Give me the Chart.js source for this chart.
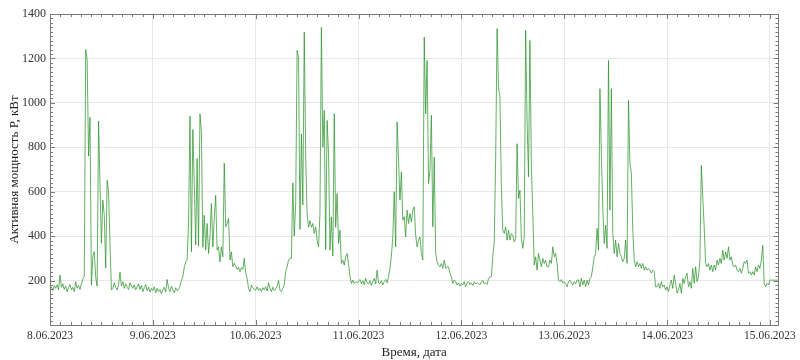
<!DOCTYPE html>
<html>
<head>
<meta charset="utf-8">
<script src="https://cdn.jsdelivr.net/npm/chart.js@4.4.0/dist/chart.umd.min.js"></script>
<style>
    html, body { margin: 0; padding: 0; background: #ffffff; }
    #wrap { width: 800px; height: 360px; }
</style>
</head>
<body>
<div id="wrap"><canvas id="myChart" width="800" height="360"></canvas></div>
<script>
//Data
///Sampling step of the logger, minutes (first value = 8.06.2023 00:00)
var stepMinutes = 20;

///Day labels on the time axis
var dayLabels = ["8.06.2023", "9.06.2023", "10.06.2023", "11.06.2023", "12.06.2023", "13.06.2023", "14.06.2023", "15.06.2023"];

///Power axis ticks, kW
var powerTicks = [0, 200, 400, 600, 800, 1000, 1200, 1400];

///Active power P, kW, one array per day
var day0806 = [160, 172, 155, 178, 165, 182, 158, 225, 170, 185, 160, 175, 150, 168, 182, 158, 170, 150, 195, 165, 178, 160, 185, 205, 220,
    1240, 1195, 760, 935, 180, 310, 330, 215, 175, 918, 629, 368, 562, 494, 256, 651, 600, 365, 157,
    165, 190, 170, 158, 180, 238, 175, 195, 165, 185, 170, 160, 190, 175, 165, 180, 158, 172, 185, 160, 178, 150, 168, 182, 155, 170, 148, 165];

var day0906 = [155, 172, 145, 165, 150, 160, 140, 158, 170, 148, 205, 165, 150, 175, 158, 145, 168, 155, 160, 175, 200, 217, 260, 285, 292,
    460, 940, 330, 880, 640, 360, 750, 355, 950, 870,
    350, 494, 337, 457, 322, 397, 547, 351, 480, 584, 337, 352, 284, 352, 307, 728, 442, 457, 480, 292, 329, 262, 278, 265, 250, 260, 240, 258, 250, 300, 235, 210, 165, 150, 180, 168, 160];

var day1006 = [157, 172, 155, 165, 150, 168, 158, 172, 152, 190, 165, 150, 170, 155, 162, 175, 200, 157, 150, 165, 180,
    240, 262, 292, 300, 300, 640, 400, 545, 1236, 1206, 430, 860, 540, 1318, 760, 500, 440, 470, 440, 457, 412, 442, 382, 352, 502,
    1340, 800, 966, 340, 921, 770, 337, 487, 310, 951, 440, 592, 367, 427, 277, 292, 270, 307, 322, 277, 217, 187, 202, 187, 195, 190];

var day1106 = [195, 205, 185, 200, 180, 210, 190, 185, 200, 178, 195, 210, 185, 247, 190, 185, 200, 180, 195, 205,
    190, 217, 255, 310, 397, 600, 352, 914, 742, 562, 689, 472, 487, 397, 517, 457, 502, 464, 517, 532, 404, 352, 382, 397, 322, 292,
    1296, 951, 1191, 637, 697, 944, 442, 756, 322, 285, 270, 262, 277, 255, 292, 255, 262, 262, 233, 217, 187, 202, 195, 180, 190, 175];

var day1206 = [187, 180, 195, 172, 190, 195, 182, 190, 178, 195, 185, 190, 187, 180, 195, 202, 185, 190, 182, 210, 215, 217,
    310, 370, 742, 1334, 1071, 1026, 622, 427, 412, 442, 382, 427, 382, 412, 404, 374, 389, 816, 570, 607, 389, 345, 397,
    1326, 921, 667, 1281, 712, 502, 270, 307, 247, 322, 292, 262, 300, 277, 292, 262, 262, 292, 277, 352, 307, 322, 277, 202,
    195, 205, 190];

var day1306 = [195, 185, 172, 195, 202, 190, 180, 195, 185, 202, 202, 172, 210, 180, 202, 172, 202, 180, 210, 217,
    260, 307, 322, 435, 337, 1064, 771, 532, 367, 449, 345, 1191, 517, 1064, 412, 322, 382, 307, 367, 322, 307, 285, 300, 382, 277,
    1011, 728, 683, 427, 292, 262, 285, 262, 277, 255, 277, 247, 262, 247, 255, 247, 233, 247, 240, 172,
    172, 187, 165, 195, 172, 180, 157];

var day1406 = [172, 150, 180, 202, 165, 225, 187, 143,
    157, 187, 143, 210, 187, 217, 233, 172, 195, 165, 255, 187, 262, 195, 217, 292, 719, 575, 440, 277, 262, 277, 247, 270, 240, 270,
    247, 292, 270, 300, 277, 337, 292, 329, 300, 352, 292, 307, 270, 262, 270, 247, 240, 255, 233, 255, 285, 277, 292, 233, 240, 225,
    240, 225, 262, 240, 270, 255, 292, 359, 187, 172, 187, 180];

var day1506 = [202, 202, 202, 202, 202, 202, 202];

var serif = "'Liberation Serif', 'Times New Roman', serif";
var chart;

//Builds the {x, y} points, x in days since 8.06.2023 00:00
function buildPoints() {
    var power = [].concat(day0806, day0906, day1006, day1106, day1206, day1306, day1406, day1506);
    var points = [];

    power.forEach(function (value, i) {
        points.push({ x: i * stepMinutes / 1440, y: value });
    });

    return points
}

//Draws the frame round the plot and the small inward ticks on all four sides
var frameTicks = {
    id: "frameTicks",
    afterDraw: function (c) {
        var area = c.chartArea;
        var xs = c.scales.x;
        var ys = c.scales.y;
        var ctx = c.ctx;

        ctx.save();
        ctx.strokeStyle = "#7a7a7a";
        ctx.lineWidth = 1;
        ctx.strokeRect(Math.round(area.left) + 0.5, Math.round(area.top) + 0.5, Math.round(area.right - area.left), Math.round(area.bottom - area.top));

        ctx.beginPath();
        ///Time axis: major tick every day, minor every 1/10 day
        for (var k = 0; k / 10 <= xs.max; k++) {
            var px = Math.round(xs.getPixelForValue(k / 10)) + 0.5;
            var len = (k % 10 == 0) ? 5 : 3;
            ctx.moveTo(px, area.bottom);
            ctx.lineTo(px, area.bottom - len);
            ctx.moveTo(px, area.top);
            ctx.lineTo(px, area.top + len);
        }

        ///Power axis: major tick every 200 kW, minor every 20 kW
        for (var v = 0; v <= ys.max; v += 20) {
            var py = Math.round(ys.getPixelForValue(v)) + 0.5;
            var l = (v % 200 == 0) ? 5 : 3;
            ctx.moveTo(area.left, py);
            ctx.lineTo(area.left + l, py);
            ctx.moveTo(area.right, py);
            ctx.lineTo(area.right - l, py);
        }
        ctx.stroke();
        ctx.restore();
    }
};

function drawGraph() {
    var points = buildPoints();
    var lastX = points[points.length - 1].x;

    chart = new Chart("myChart", {
        type: "line",
        data: {
            datasets: [{
                label: "P",
                data: points,
                borderColor: "rgba(40, 145, 40, 0.72)",
                borderWidth: 1,
                pointRadius: 0,
                tension: 0,
                fill: false
            }]
        },
        options: {
            responsive: false,
            animation: false,
            devicePixelRatio: 1,
            layout: {
                padding: { left: 0, right: 19, top: 14, bottom: 0 }
            },
            plugins: {
                legend: { display: false },
                tooltip: { enabled: false }
            },
            scales: {
                x: {
                    type: "linear",
                    min: 0,
                    max: lastX,
                    afterBuildTicks: function (scale) {
                        scale.ticks = dayLabels.map(function (label, i) { return { value: i }; });
                    },
                    afterFit: function (scale) { scale.height = 35; },
                    ticks: {
                        callback: function (value) { return dayLabels[value]; },
                        font: { family: serif, size: 11.5 },
                        color: "#333333",
                        maxRotation: 0,
                        autoSkip: false,
                        padding: 4
                    },
                    grid: { color: "#e8e8e8", drawTicks: false },
                    border: { display: false },
                    title: {
                        display: true,
                        text: "Время, дата",
                        font: { family: serif, size: 13 },
                        color: "#222222",
                        padding: 0
                    }
                },
                y: {
                    min: 0,
                    max: 1400,
                    afterBuildTicks: function (scale) {
                        scale.ticks = powerTicks.map(function (v) { return { value: v }; });
                    },
                    afterFit: function (scale) { scale.width = 50; },
                    ticks: {
                        callback: function (value) { return value == 0 ? "" : value; },
                        font: { family: serif, size: 12 },
                        color: "#333333",
                        padding: 4
                    },
                    grid: { color: "#e8e8e8", drawTicks: false },
                    border: { display: false },
                    title: {
                        display: true,
                        text: "Активная мощность P, кВт",
                        font: { family: serif, size: 13 },
                        color: "#222222",
                        padding: { top: 7, bottom: 0 }
                    }
                }
            }
        },
        plugins: [frameTicks]
    });
}

window.onload = function () {
    drawGraph();
};
</script>
</body>
</html>
